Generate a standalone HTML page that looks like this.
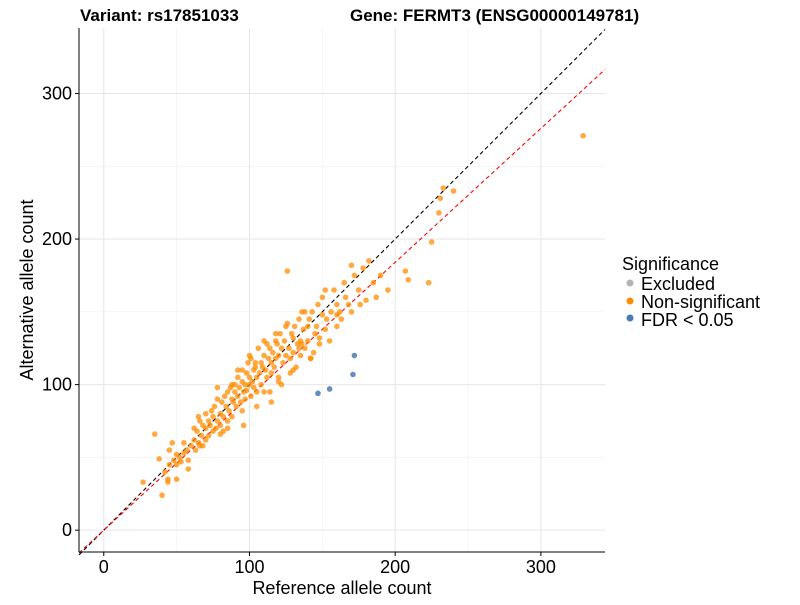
<!DOCTYPE html>
<html><head><meta charset="utf-8"><style>
body{margin:0;background:#fff;font-family:"Liberation Sans",Arial,sans-serif}
svg text{font-family:"Liberation Sans",Arial,sans-serif}
</style></head><body>
<svg id="chart" width="800" height="600" viewBox="0 0 800 600">
<g id="grid"></g>
<g id="lines"></g>
<g id="points"></g>
<g id="axes"></g>
<text x="80" y="21" font-size="17" font-weight="bold">Variant: rs17851033</text>
<text x="350" y="21" font-size="17" font-weight="bold">Gene: FERMT3 (ENSG00000149781)</text>
<text x="342" y="594" font-size="18" text-anchor="middle">Reference allele count</text>
<text transform="translate(33,290) rotate(-90)" font-size="18" text-anchor="middle">Alternative allele count</text>
<g>
<text x="622" y="270" font-size="18">Significance</text>
<circle cx="630" cy="283" r="3.5" fill="#b3b3b3"/>
<text x="641" y="290" font-size="18">Excluded</text>
<circle cx="630" cy="301" r="3.5" fill="#ff8c00"/>
<text x="641" y="308" font-size="18">Non-significant</text>
<circle cx="630" cy="318" r="3.5" fill="#4a7ab3"/>
<text x="641" y="326" font-size="18">FDR &lt; 0.05</text>
</g>
</svg>
<script>
const xTicks=[0,100,200,300];
const yTicks=[0,100,200,300];
const minorTicks=[50,150,250];
const refLineSlope=1;
const fitLineSlope=0.92;
const nsRef=[27,35,40,42,44,44,45,48,50,50,52,53,55,55,57,58,60,38,45,47,50,62,63,64,65,66,67,68,68,70,70,72,72,73,75,75,76,77,78,78,80,80,81,82,83,84,85,85,86,87,88,88,89,90,90,91,92,92,93,94,95,95,96,97,97,98,98,99,100,100,101,101,102,103,103,104,105,105,106,107,108,108,109,110,110,111,112,113,114,115,115,116,117,118,118,119,120,120,121,122,123,124,125,125,126,127,128,129,130,130,131,132,133,134,135,135,136,137,138,140,140,141,142,143,145,146,147,148,150,150,152,153,155,156,158,160,160,162,163,165,166,168,170,172,175,178,180,182,185,187,190,195,207,209,225,223,231,230,233,240,329,65,70,78,82,85,92,95,100,105,110,112,115,118,122,126,130,134,138,142,148,152,58,62,66,74,80,88,96,104,114,120,128,136,144,160,170,176];
const nsAlt=[33,66,24,40,33,35,55,48,45,52,50,47,53,60,55,48,58,49,45,60,35,62,55,68,60,75,65,72,58,70,80,65,75,72,78,68,85,70,98,75,80,72,88,78,92,85,95,70,82,98,90,78,88,95,100,85,92,105,98,88,102,110,95,100,90,108,96,115,100,105,92,118,102,110,98,112,105,95,125,108,100,115,112,120,130,110,105,118,125,115,108,122,112,130,118,128,120,105,135,125,115,130,120,140,178,125,118,135,122,132,140,112,128,145,130,120,150,138,125,140,130,145,118,150,135,140,155,128,148,160,138,145,130,150,165,140,155,150,145,170,160,155,150,175,165,180,158,185,170,160,175,165,178,172,198,170,228,218,235,233,271,78,62,90,68,75,110,82,120,85,95,128,88,135,100,142,110,125,150,118,132,165,42,70,58,82,66,100,72,115,95,102,108,128,122,148,182,155];
const fdrRef=[147,155,172,171];
const fdrAlt=[94,97,120,107];
const X0=79,X1=605,Y0=28,Y1=552;
const xMin=-17,xMax=344,yMin=-15,yMax=345;
const sx=v=>X0+(v-xMin)/(xMax-xMin)*(X1-X0);
const sy=v=>Y1-(v-yMin)/(yMax-yMin)*(Y1-Y0);
const NS="http://www.w3.org/2000/svg";
function mk(tag,attrs,parent){const e=document.createElementNS(NS,tag);for(const k in attrs)e.setAttribute(k,attrs[k]);parent.appendChild(e);return e;}
const grid=document.getElementById('grid');
minorTicks.forEach(t=>{
 const a=mk('line',{x1:sx(t),x2:sx(t),y1:Y0,y2:Y1,stroke:'#f0f0f0','stroke-width':0.6},grid);
 
 
 const b=mk('line',{x1:X0,x2:X1,y1:sy(t),y2:sy(t),stroke:'#f0f0f0','stroke-width':0.6},grid);
 
 
});
xTicks.forEach(t=>{
 const a=mk('line',{x1:sx(t),x2:sx(t),y1:Y0,y2:Y1,stroke:'#e6e6e6','stroke-width':1},grid);
 
 
});
yTicks.forEach(t=>{
 const a=mk('line',{x1:X0,x2:X1,y1:sy(t),y2:sy(t),stroke:'#e6e6e6','stroke-width':1},grid);
 
 
});
const lines=document.getElementById('lines');
const ly=mk('line',{x1:sx(xMin),y1:sy(xMin*refLineSlope),x2:sx(xMax),y2:sy(xMax*refLineSlope),stroke:'#000','stroke-width':1.1,'stroke-dasharray':'4,3'},lines);


const lf=mk('line',{x1:sx(xMin),y1:sy(xMin*fitLineSlope),x2:sx(xMax),y2:sy(xMax*fitLineSlope),stroke:'#ff0000','stroke-width':1.1,'stroke-dasharray':'4,3'},lines);


const pts=document.getElementById('points');
nsRef.forEach((r,i)=>{
 const c=mk('circle',{cx:sx(r),cy:sy(nsAlt[i]),r:2.8,fill:'#ff8c00','fill-opacity':0.75},pts);
 
 
});
fdrRef.forEach((r,i)=>{
 const c=mk('circle',{cx:sx(r),cy:sy(fdrAlt[i]),r:2.8,fill:'#4a7ab3','fill-opacity':0.85},pts);
 
 
});
const ax=document.getElementById('axes');
const xa=mk('line',{x1:X0,x2:X1,y1:Y1,y2:Y1,stroke:'#000','stroke-width':1},ax);


const ya=mk('line',{x1:X0,x2:X0,y1:Y0,y2:Y1,stroke:'#000','stroke-width':1},ax);


xTicks.forEach(t=>{
 const tk=mk('line',{x1:sx(t),x2:sx(t),y1:Y1,y2:Y1+4,stroke:'#000'},ax);
 
 
 const tx=mk('text',{x:sx(t),y:Y1+21,'font-size':18,'text-anchor':'middle'},ax);
 tx.textContent=t;
 
 
});
yTicks.forEach(t=>{
 const tk=mk('line',{x1:X0-4,x2:X0,y1:sy(t),y2:sy(t),stroke:'#000'},ax);
 
 
 const tx=mk('text',{x:X0-7,y:sy(t)+6,'font-size':18,'text-anchor':'end'},ax);
 tx.textContent=t;
 
 
});
</script>
</body></html>
